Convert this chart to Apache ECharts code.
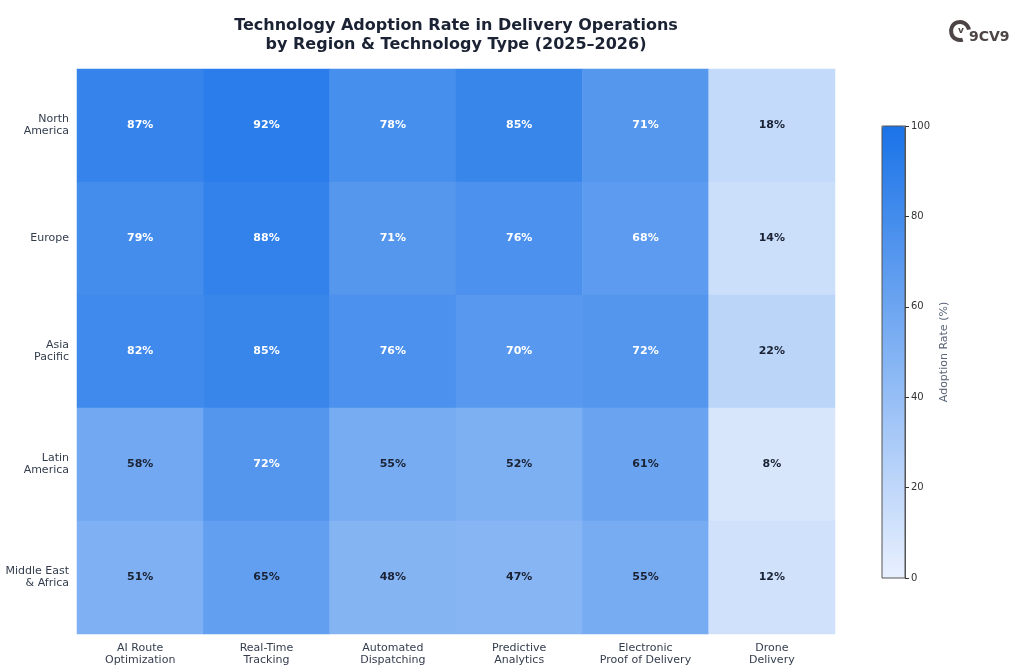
<!DOCTYPE html>
<html>
<head>
<meta charset="utf-8">
<script src="https://cdn.jsdelivr.net/npm/echarts@6/dist/echarts.min.js"></script>
<style>
  html, body { margin: 0; padding: 0; background: #fff; }
  #chart { width: 1024px; height: 672px; }
</style>
</head>
<body>
<div id="chart"></div>
<script>
// technology columns and region rows
var technologies = ['AI Route\nOptimization', 'Real-Time\nTracking', 'Automated\nDispatching', 'Predictive\nAnalytics', 'Electronic\nProof of Delivery', 'Drone\nDelivery']
var regions = ['North\nAmerica', 'Europe', 'Asia\nPacific', 'Latin\nAmerica', 'Middle East\n& Africa']

// adoption rate (%) per region, same order as technologies
var northAmerica = [87, 92, 78, 85, 71, 18]
var europe = [79, 88, 71, 76, 68, 14]
var asiaPacific = [82, 85, 76, 70, 72, 22]
var latinAmerica = [58, 72, 55, 52, 61, 8]
var middleEastAfrica = [51, 65, 48, 47, 55, 12]

var colorbarTicks = [0, 20, 40, 60, 80, 100]

var rows = [northAmerica, europe, asiaPacific, latinAmerica, middleEastAfrica]
var cells = []
rows.forEach(function (row, r) {
  row.forEach(function (v, c) {
    cells.push({
      value: [c, r, v],
      label: { color: v >= 66 ? '#ffffff' : '#1a2233' }
    })
  })
})

var font = 'DejaVu Sans, sans-serif'
var myChart = echarts.init(document.getElementById('chart'))

var option = {
  backgroundColor: '#fff',
  animation: false,
  textStyle: { fontFamily: font },
  graphic: [
    {
      type: 'text',
      x: 456, y: 16,
      style: {
        text: 'Technology Adoption Rate in Delivery Operations\nby Region & Technology Type (2025–2026)',
        align: 'center',
        font: 'bold 16px DejaVu Sans',
        lineHeight: 19,
        fill: '#1a2233'
      }
    },
    // 9CV9 logo
    {
      type: 'arc',
      shape: { cx: 960, cy: 31, r: 9, startAngle: Math.PI * 0.4, endAngle: Math.PI * 1.95 },
      style: { stroke: '#4d4545', lineWidth: 4, fill: null }
    },
    {
      type: 'text',
      x: 961, y: 31,
      style: { text: 'v', font: 'bold 9px DejaVu Sans', fill: '#4d4545', align: 'center', verticalAlign: 'middle' }
    },
    {
      type: 'text',
      x: 969, y: 37,
      style: { text: '9CV9', font: 'bold 14px DejaVu Sans', fill: '#4d4545', verticalAlign: 'middle' }
    }
  ],
  grid: [
    { left: 77, right: 189, top: 69, bottom: 38 },
    { left: 882, top: 126, width: 23, height: 452, show: true, borderColor: '#555', borderWidth: 1, backgroundColor: 'transparent', z: 10 }
  ],
  xAxis: [
    {
      type: 'category',
      data: technologies,
      gridIndex: 0,
      axisLine: { show: false },
      axisTick: { show: false },
      splitArea: { show: false },
      axisLabel: { color: '#333d4d', fontSize: 11, margin: 8, lineHeight: 12, interval: 0 }
    },
    { type: 'value', gridIndex: 1, show: false, min: 0, max: 1 }
  ],
  yAxis: [
    {
      type: 'category',
      data: regions,
      gridIndex: 0,
      inverse: true,
      axisLine: { show: false },
      axisTick: { show: false },
      axisLabel: { color: '#333d4d', fontSize: 11, margin: 8, lineHeight: 12, align: 'right' }
    },
    {
      type: 'value',
      gridIndex: 1,
      position: 'right',
      z: 12,
      min: colorbarTicks[0],
      max: colorbarTicks[colorbarTicks.length - 1],
      interval: 20,
      axisLine: { show: true, onZero: false, lineStyle: { color: '#555', width: 1 } },
      axisTick: { show: true, inside: false, length: 4, lineStyle: { color: '#333' } },
      splitLine: { show: false },
      axisLabel: { color: '#333', fontSize: 10, margin: 6 },
      name: 'Adoption Rate (%)',
      nameLocation: 'middle',
      nameRotate: 90,
      nameGap: 34,
      nameTextStyle: { color: '#5a6478', fontSize: 11 }
    }
  ],
  visualMap: {
    type: 'continuous',
    min: 0,
    max: 100,
    seriesIndex: 0,
    calculable: false,
    left: 882,
    top: 126,
    padding: 0,
    itemWidth: 23,
    itemHeight: 452,
    text: ['', ''],
    hoverLink: false,
    inRange: { color: ['#e8f0fe', '#1a73e8'] }
  },
  series: [{
    type: 'heatmap',
    xAxisIndex: 0,
    yAxisIndex: 0,
    data: cells,
    label: {
      show: true,
      fontSize: 11,
      fontWeight: 'bold',
      formatter: function (p) { return p.value[2] + '%' }
    },
    itemStyle: { borderWidth: 0 },
    emphasis: { disabled: true }
  }]
}

myChart.setOption(option)
window.addEventListener('resize', function () {
  myChart.resize()
})
</script>
</body>
</html>
